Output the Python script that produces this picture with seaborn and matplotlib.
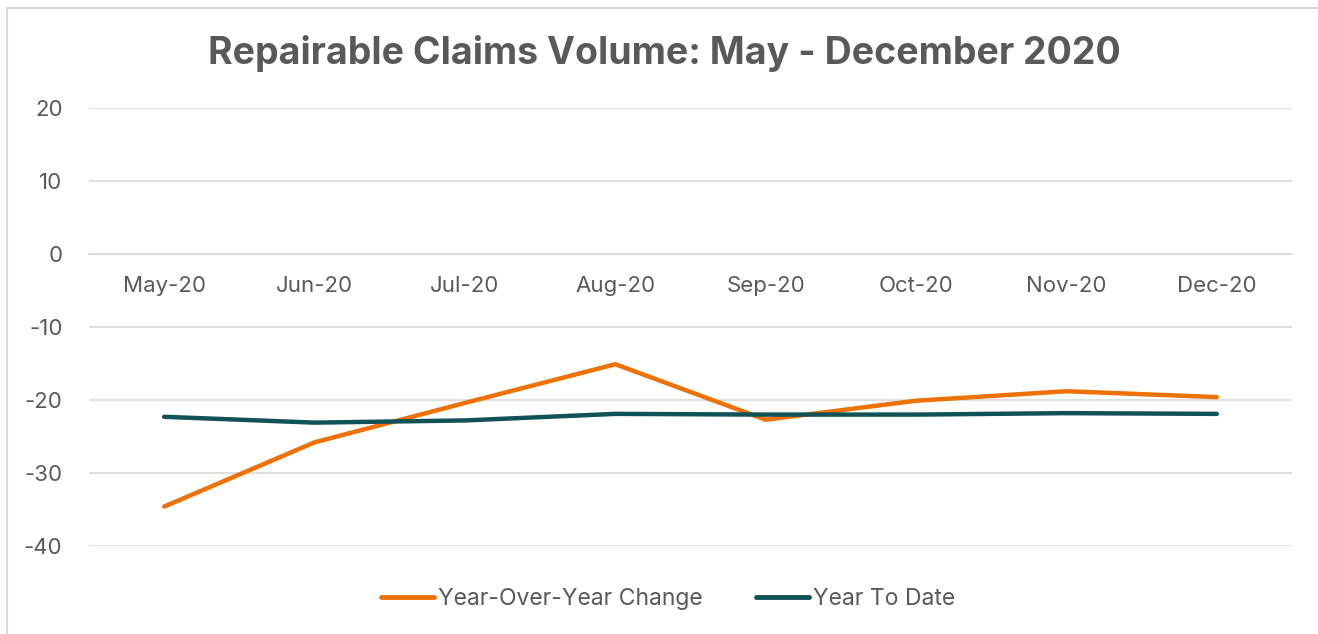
import matplotlib
matplotlib.use("Agg")
import matplotlib.pyplot as plt
import seaborn as sns
import pandas as pd
from matplotlib.patches import Rectangle
from matplotlib.ticker import FixedLocator
from matplotlib.lines import Line2D

months = ["May-20", "Jun-20", "Jul-20", "Aug-20", "Sep-20", "Oct-20", "Nov-20", "Dec-20"]
yoy_change = [-34.6, -25.8, -20.4, -15.1, -22.7, -20.1, -18.8, -19.6]
year_to_date = [-22.3, -23.1, -22.8, -21.9, -22.0, -22.0, -21.8, -21.9]
series_names = ["Year-Over-Year Change", "Year To Date"]
y_ticks = [20, 10, 0, -10, -20, -30, -40]

df = pd.DataFrame({
    "Month": months * 2,
    "Value": yoy_change + year_to_date,
    "Series": [series_names[0]] * len(months) + [series_names[1]] * len(months),
})

sns.set_theme(style="white")
plt.rcParams["font.family"] = ["Inter", "DejaVu Sans"]

text_color = "#595959"
grid_color = "#D9D9D9"
palette = {series_names[0]: "#EE7203", series_names[1]: "#115257"}

fig = plt.figure(figsize=(13.18, 6.34), dpi=100)
ax = fig.add_axes([89 / 1318, 1 - 546 / 634, (1292 - 89) / 1318, (546 - 108) / 634])

sns.lineplot(data=df, x="Month", y="Value", hue="Series", palette=palette,
             linewidth=3.2, ax=ax, sort=False, legend=False,
             solid_capstyle="round", solid_joinstyle="miter")

ax.set_xlim(-0.5, len(months) - 0.5)
ax.set_ylim(-40, 20)
ax.set_yticks(y_ticks)
ax.set_yticklabels([str(t) for t in y_ticks])
ax.yaxis.grid(True, color=grid_color, linewidth=1.2)
ax.set_axisbelow(True)
ax.set_xlabel("")
ax.set_ylabel("")

for s in ["top", "right", "left"]:
    ax.spines[s].set_visible(False)
ax.spines["bottom"].set_position(("data", 0))
ax.spines["bottom"].set_color(grid_color)
ax.spines["bottom"].set_linewidth(1.2)

ax.set_xticks(range(len(months)))
ax.set_xticklabels(months)
ax.xaxis.set_minor_locator(FixedLocator([i - 0.5 for i in range(len(months) + 1)]))
ax.tick_params(axis="x", which="major", length=0, pad=16, labelsize=16, labelcolor=text_color)
ax.tick_params(axis="x", which="minor", length=6, width=1.2, color=grid_color, direction="out")
ax.tick_params(axis="y", length=0, pad=19, labelsize=16, labelcolor=text_color)

fig.text(0.504, 1 - 54 / 634, "Repairable Claims Volume: May - December 2020",
         ha="center", va="center", fontsize=27, fontweight="bold", color=text_color)

handles = [Line2D([0], [0], color=palette[n], linewidth=3.5, solid_capstyle="round") for n in series_names]
fig.legend(handles, series_names, loc="center", bbox_to_anchor=(0.507, 1 - 599 / 634),
           ncol=2, frameon=False, fontsize=16.5, labelcolor=text_color,
           handlelength=2.3, handletextpad=0.2, columnspacing=2.3)

fig.patches.append(Rectangle((7 / 1318, -0.1), 1.2, 1 - 8 / 634 + 0.1, transform=fig.transFigure,
                             fill=False, edgecolor="#D9D9D9", linewidth=1.5))

fig.savefig("out.png", dpi=100, facecolor="white")
